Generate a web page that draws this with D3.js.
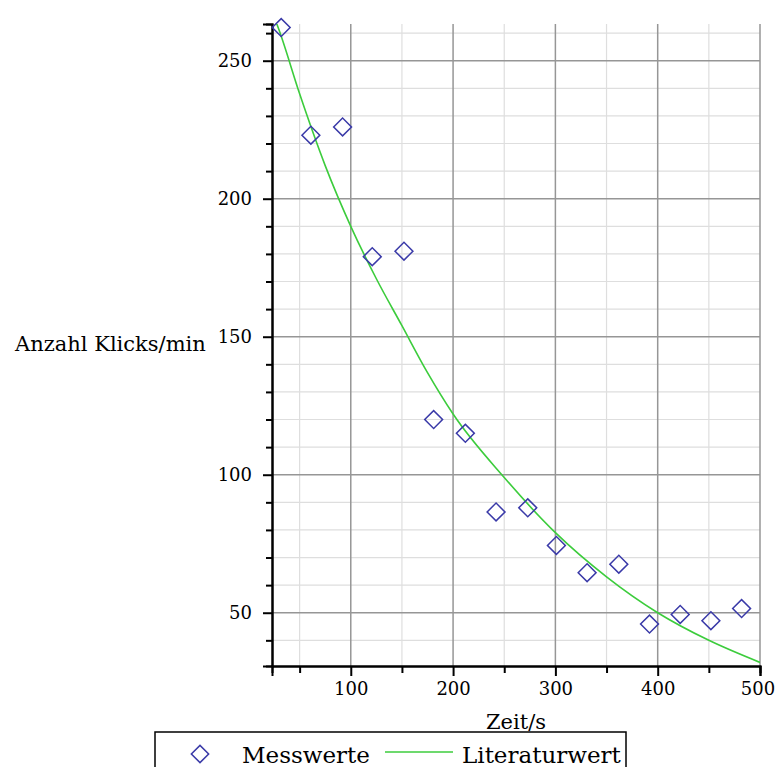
<!DOCTYPE html>
<html>
<head>
<meta charset="utf-8">
<script src="https://cdn.jsdelivr.net/npm/d3@7"></script>
<style>
  html, body { margin: 0; padding: 0; background: #fff; }
  svg { display: block; }
</style>
</head>
<body>
<script>
// Messwerte (Zeit in s, Klicks/min)
const timeValues = [32, 61, 92, 121, 152, 181, 212, 242, 273, 301, 331, 362, 392, 422, 452, 482]
const clickValues = [262, 223, 226, 179, 181, 120, 115, 86.5, 88, 74.4, 64.5, 67.6, 45.9, 49.4, 47.1, 51.5]

// Literaturwert
const curveTimes = [25, 30, 50, 75, 100, 125, 150, 175, 200, 250, 300, 350, 400, 450, 500]
const curveValues = [266, 261, 238, 212, 190, 171, 154, 137, 122, 99, 79, 63, 50, 40, 32]

const xTicks = [100, 200, 300, 400, 500]
const xMinorTicks = [50, 150, 250, 350, 450]
const yTicks = [50, 100, 150, 200, 250]
const yMinorTicks = [40, 60, 70, 80, 90, 110, 120, 130, 140, 160, 170, 180, 190, 210, 220, 230, 240, 260]

const legendLabels = ['Messwerte', 'Literaturwert']

const width = 776
const height = 767
const margin = { top: 24, left: 272, right: 16, bottom: 101 }
const plotW = width - margin.left - margin.right
const plotH = height - margin.top - margin.bottom

const font = "'DejaVu Serif', serif"
const markColor = '#3a3aa8'
const lineColor = '#3ccc3c'

const x = d3.scaleLinear().domain([23, 500]).range([0, plotW])
const y = d3.scaleLinear().domain([30.7, 263.3]).range([plotH, 0])

const svg = d3
  .select('body')
  .append('svg')
  .attr('width', width)
  .attr('height', height)
  .attr('viewBox', [0, 0, width, height])

svg
  .append('defs')
  .append('clipPath')
  .attr('id', 'plotClip')
  .append('rect')
  .attr('width', plotW)
  .attr('height', plotH)

const g = svg.append('g').attr('transform', `translate(${margin.left}, ${margin.top})`)

// minor grid
g.append('g')
  .selectAll('line')
  .data(xMinorTicks)
  .join('line')
  .attr('x1', d => x(d))
  .attr('x2', d => x(d))
  .attr('y1', 0)
  .attr('y2', plotH)
  .attr('stroke', '#dedede')
  .attr('stroke-width', 1.2)

g.append('g')
  .selectAll('line')
  .data(yMinorTicks)
  .join('line')
  .attr('x1', 0)
  .attr('x2', plotW)
  .attr('y1', d => y(d))
  .attr('y2', d => y(d))
  .attr('stroke', '#dedede')
  .attr('stroke-width', 1.2)

// major grid
g.append('g')
  .selectAll('line')
  .data(xTicks)
  .join('line')
  .attr('x1', d => x(d))
  .attr('x2', d => x(d))
  .attr('y1', 0)
  .attr('y2', plotH)
  .attr('stroke', '#969696')
  .attr('stroke-width', 1.5)

g.append('g')
  .selectAll('line')
  .data(yTicks)
  .join('line')
  .attr('x1', 0)
  .attr('x2', plotW)
  .attr('y1', d => y(d))
  .attr('y2', d => y(d))
  .attr('stroke', '#969696')
  .attr('stroke-width', 1.5)

// axes
const xAxis = d3.axisBottom(x).tickValues(xTicks).tickSize(10).tickPadding(6).tickFormat(d3.format('d'))
const xAxisMinor = d3.axisBottom(x).tickValues(xMinorTicks).tickSize(7).tickFormat('')
const yAxis = d3.axisLeft(y).tickValues(yTicks).tickSize(9).tickPadding(11).tickFormat(d3.format('d'))
const yAxisMinor = d3.axisLeft(y).tickValues(yMinorTicks).tickSize(6).tickFormat('')

const styleAxis = sel =>
  sel
    .call(s => s.selectAll('line').attr('stroke', '#000').attr('stroke-width', 2))
    .call(s => s.select('.domain').attr('stroke', '#000').attr('stroke-width', 2))
    .call(s => s.selectAll('text').attr('fill', '#000').attr('font-family', font).attr('font-size', 18))

g.append('g').attr('transform', `translate(0, ${plotH})`).call(xAxisMinor).call(styleAxis)
g.append('g')
  .attr('transform', `translate(0, ${plotH})`)
  .call(xAxis)
  .call(styleAxis)
  .call(s => s.selectAll('.tick text').filter(d => d === 500).attr('dx', -2.5))
g.append('g').call(yAxisMinor).call(styleAxis)
g.append('g').call(yAxis).call(styleAxis)

// curve
const line = d3
  .line()
  .x(d => x(d[0]))
  .y(d => y(d[1]))
  .curve(d3.curveMonotoneX)

g.append('path')
  .datum(d3.zip(curveTimes, curveValues))
  .attr('clip-path', 'url(#plotClip)')
  .attr('fill', 'none')
  .attr('stroke', lineColor)
  .attr('stroke-width', 1.6)
  .attr('d', line)

// points
const diamond = d3.symbol().type(d3.symbolSquare).size(160)

g.append('g')
  .selectAll('path')
  .data(d3.zip(timeValues, clickValues))
  .join('path')
  .attr('transform', d => `translate(${x(d[0])}, ${y(d[1])}) rotate(45)`)
  .attr('d', diamond)
  .attr('fill', 'none')
  .attr('stroke', markColor)
  .attr('stroke-width', 1.5)

// axis labels
svg
  .append('text')
  .attr('x', 15)
  .attr('y', 351)
  .attr('font-family', font)
  .attr('font-size', 21)
  .attr('fill', '#000')
  .text('Anzahl Klicks/min')

svg
  .append('text')
  .attr('x', margin.left + plotW / 2)
  .attr('y', 729)
  .attr('text-anchor', 'middle')
  .attr('font-family', font)
  .attr('font-size', 21)
  .attr('fill', '#000')
  .text('Zeit/s')

// legend
const legend = svg.append('g')

legend
  .append('rect')
  .attr('x', 155)
  .attr('y', 732)
  .attr('width', 471)
  .attr('height', 60)
  .attr('fill', '#fff')
  .attr('stroke', '#000')
  .attr('stroke-width', 1.5)

legend
  .append('path')
  .attr('transform', 'translate(200, 754) rotate(45)')
  .attr('d', d3.symbol().type(d3.symbolSquare).size(150))
  .attr('fill', 'none')
  .attr('stroke', markColor)
  .attr('stroke-width', 1.5)

legend
  .append('line')
  .attr('x1', 385)
  .attr('x2', 453)
  .attr('y1', 752)
  .attr('y2', 752)
  .attr('stroke', lineColor)
  .attr('stroke-width', 1.6)

legend
  .selectAll('text')
  .data(legendLabels)
  .join('text')
  .attr('x', (d, i) => (i === 0 ? 242 : 462))
  .attr('y', 763)
  .attr('font-family', font)
  .attr('font-size', 23)
  .attr('fill', '#000')
  .text(d => d)
</script>
</body>
</html>
